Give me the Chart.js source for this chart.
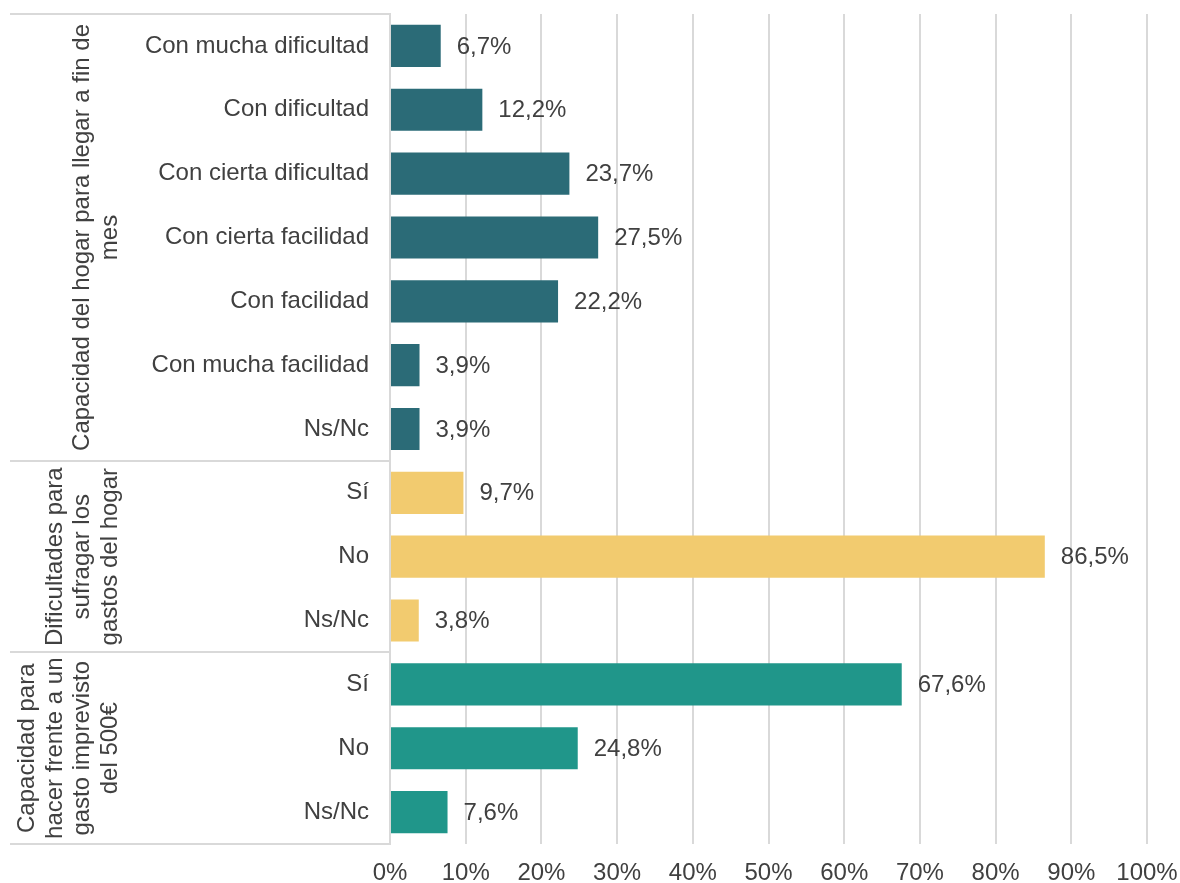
<!DOCTYPE html>
<html>
<head>
<meta charset="utf-8">
<script src="https://cdn.jsdelivr.net/npm/chart.js@4"></script>
<style>
  html, body { margin: 0; padding: 0; background: #ffffff; }
  canvas { display: block; }
</style>
</head>
<body>
<canvas id="c" width="1180" height="883"></canvas>
<script>
const categories = [
  "Con mucha dificultad", "Con dificultad", "Con cierta dificultad",
  "Con cierta facilidad", "Con facilidad", "Con mucha facilidad", "Ns/Nc",
  "Sí", "No", "Ns/Nc",
  "Sí", "No", "Ns/Nc"
];
const values = [6.7, 12.2, 23.7, 27.5, 22.2, 3.9, 3.9, 9.7, 86.5, 3.8, 67.6, 24.8, 7.6];
const groupNames = [
  ["Capacidad del hogar para llegar a fin de", "mes"],
  ["Dificultades para", "sufragar los", "gastos del hogar"],
  ["Capacidad para", "hacer frente a un", "gasto imprevisto", "del 500€"]
];
const groupSizes = [7, 3, 3];
const groupColors = ["#2b6b77", "#f2cb6f", "#20968a"];
const xTicks = [0, 10, 20, 30, 40, 50, 60, 70, 80, 90, 100];

const FONT = "'Liberation Sans', Arial, sans-serif";
const TEXT = "#404040";
const LINE = "#d9d9d9";

const barColors = [];
groupSizes.forEach((n, g) => { for (let i = 0; i < n; i++) barColors.push(groupColors[g]); });

const fmt = v => v.toFixed(1).replace('.', ',') + '%';

const decorPlugin = {
  id: 'decor',
  afterDraw(chart) {
    const ctx = chart.ctx;
    const ca = chart.chartArea;
    const ys = chart.scales.y;
    // data labels
    const meta = chart.getDatasetMeta(0);
    ctx.save();
    ctx.font = "24px " + FONT;
    ctx.fillStyle = TEXT;
    ctx.textAlign = 'left';
    ctx.textBaseline = 'middle';
    meta.data.forEach((bar, i) => {
      ctx.fillText(fmt(values[i]), bar.x + 16, bar.y + 1);
    });
    ctx.restore();

    // frame lines of group column
    const bounds = [ca.top];
    let idx = 0;
    groupSizes.forEach((n, g) => {
      idx += n;
      if (idx < categories.length) {
        bounds.push((ys.getPixelForValue(idx - 1) + ys.getPixelForValue(idx)) / 2);
      }
    });
    bounds.push(ca.bottom);
    ctx.save();
    ctx.strokeStyle = LINE;
    ctx.lineWidth = 2;
    bounds.forEach(y => {
      ctx.beginPath();
      ctx.moveTo(10, Math.round(y));
      ctx.lineTo(ca.left, Math.round(y));
      ctx.stroke();
    });
    ctx.restore();

    // rotated group labels
    ctx.save();
    ctx.font = "24px " + FONT;
    ctx.fillStyle = TEXT;
    ctx.textAlign = 'center';
    ctx.textBaseline = 'middle';
    const lastX = 110, lh = 27.5;
    groupNames.forEach((lines, g) => {
      const cy = (bounds[g] + bounds[g + 1]) / 2;
      lines.forEach((t, k) => {
        const x = lastX - (lines.length - 1 - k) * lh;
        ctx.save();
        ctx.translate(x, cy);
        ctx.rotate(-Math.PI / 2);
        ctx.fillText(t, 0, 0);
        ctx.restore();
      });
    });
    ctx.restore();
  }
};

new Chart(document.getElementById('c'), {
  type: 'bar',
  data: {
    labels: categories,
    datasets: [{
      data: values,
      backgroundColor: barColors,
      borderWidth: 0,
      barPercentage: 0.66,
      categoryPercentage: 1
    }]
  },
  options: {
    indexAxis: 'y',
    responsive: false,
    animation: false,
    layout: { padding: { top: 14, right: 33, bottom: 0, left: 0 } },
    plugins: { legend: { display: false }, tooltip: { enabled: false } },
    scales: {
      x: {
        min: 0, max: 100,
        afterBuildTicks: s => { s.ticks = xTicks.map(v => ({ value: v })); },
        afterFit: s => { s.height = 39; s.paddingLeft = 0; s.paddingRight = 0; },
        ticks: {
          callback: v => v + '%',
          font: { family: FONT, size: 24 },
          color: TEXT,
          padding: 15,
          maxRotation: 0
        },
        grid: { color: LINE, lineWidth: 2, drawTicks: false },
        border: { display: false }
      },
      y: {
        afterFit: s => { s.width = 390; s.paddingTop = 0; s.paddingBottom = 0; },
        ticks: {
          font: { family: FONT, size: 24 },
          color: TEXT,
          padding: 21,
          autoSkip: false
        },
        grid: { display: false, drawTicks: false },
        border: { display: true, color: LINE, width: 2 }
      }
    }
  },
  plugins: [decorPlugin]
});
</script>
</body>
</html>
